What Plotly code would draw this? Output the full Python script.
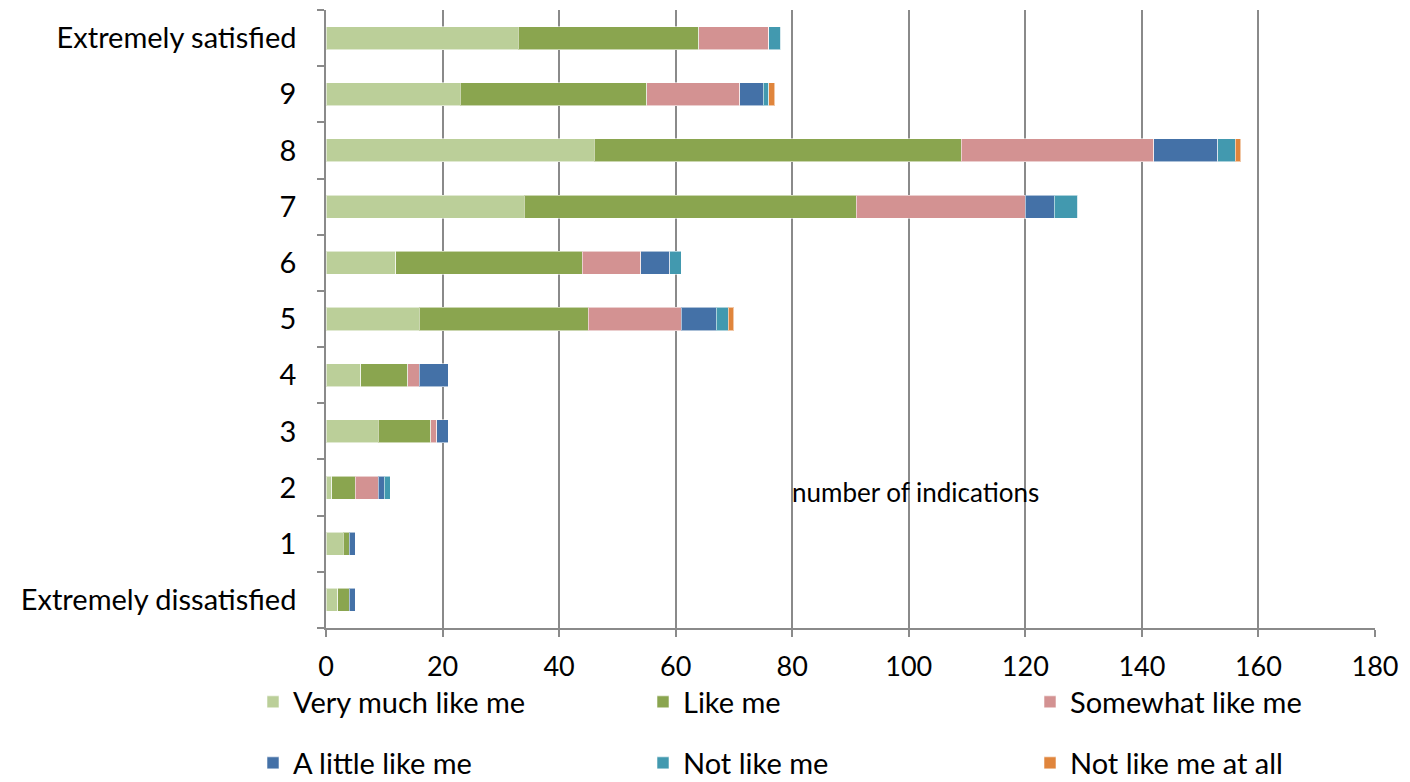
import plotly.graph_objects as go

# Satisfaction levels (bottom to top) and counts per response option
levels = ["Extremely dissatisfied", "1", "2", "3", "4", "5", "6", "7", "8", "9", "Extremely satisfied"]

very_much_like_me = [2, 3, 1, 9, 6, 16, 12, 34, 46, 23, 33]
like_me = [2, 1, 4, 9, 8, 29, 32, 57, 63, 32, 31]
somewhat_like_me = [0, 0, 4, 1, 2, 16, 10, 29, 33, 16, 12]
a_little_like_me = [1, 1, 1, 2, 5, 6, 5, 5, 11, 4, 0]
not_like_me = [0, 0, 1, 0, 0, 2, 2, 4, 3, 1, 2]
not_like_me_at_all = [0, 0, 0, 0, 0, 1, 0, 0, 1, 1, 0]

series = [
    ("Very much like me", very_much_like_me, "#BBCF99"),
    ("Like me", like_me, "#8AA54F"),
    ("Somewhat like me", somewhat_like_me, "#D39292"),
    ("A little like me", a_little_like_me, "#4471A7"),
    ("Not like me", not_like_me, "#4299AF"),
    ("Not like me at all", not_like_me_at_all, "#E0853C"),
]

FONT = "Lato"
GRID = "#8a8a8a"
W, H = 1410, 782

# one single-entry legend per series, laid out as a 3 x 2 grid under the axis
legend_left_px = [253, 643, 1030]
legend_row_px = [702, 763]

fig = go.Figure()
layout_legends = {}
for i, (name, vals, color) in enumerate(series):
    key = "legend" if i == 0 else f"legend{i + 1}"
    fig.add_trace(go.Bar(
        y=levels, x=vals, name=name, orientation="h",
        marker=dict(color=color, line=dict(color="rgba(255,255,255,0.55)", width=1)),
        legend=key,
    ))
    col, row = i % 3, i // 3
    layout_legends[key] = dict(
        xref="container", yref="container",
        x=legend_left_px[col] / W, xanchor="left",
        y=1 - legend_row_px[row] / H, yanchor="middle",
        orientation="h", itemwidth=30,
        font=dict(family=FONT, size=29, color="black"),
        bgcolor="rgba(0,0,0,0)", borderwidth=0,
    )

fig.update_layout(
    width=W, height=H,
    margin=dict(l=326, r=35, t=10, b=154, autoexpand=False),
    paper_bgcolor="white", plot_bgcolor="white",
    barmode="stack", bargap=0.59,
    font=dict(family=FONT, size=25, color="black"),
    showlegend=True,
    **layout_legends,
)

fig.update_xaxes(
    range=[0, 180], dtick=20, tick0=0,
    showgrid=True, gridcolor=GRID, gridwidth=1.5,
    showline=True, linecolor=GRID, linewidth=1.5,
    ticks="outside", ticklen=7, tickcolor=GRID, tickwidth=1.5,
    ticklabelstandoff=7,
    zeroline=False,
    tickfont=dict(family=FONT, size=27, color="black"),
)

fig.update_yaxes(
    type="category", categoryorder="array", categoryarray=levels,
    showgrid=False, showline=True, linecolor=GRID, linewidth=1.5,
    ticks="outside", ticklen=7, tickcolor=GRID, tickwidth=1.5,
    tickson="boundaries", ticklabelstandoff=22,
    tickfont=dict(family=FONT, size=29, color="black"),
)

fig.add_annotation(
    x=80, y="2", xref="x", yref="y", text="number of indications",
    showarrow=False, xanchor="left", yanchor="middle", yshift=-4, xshift=-2,
    font=dict(family=FONT, size=26, color="black"),
)

fig.write_html("out.html")
